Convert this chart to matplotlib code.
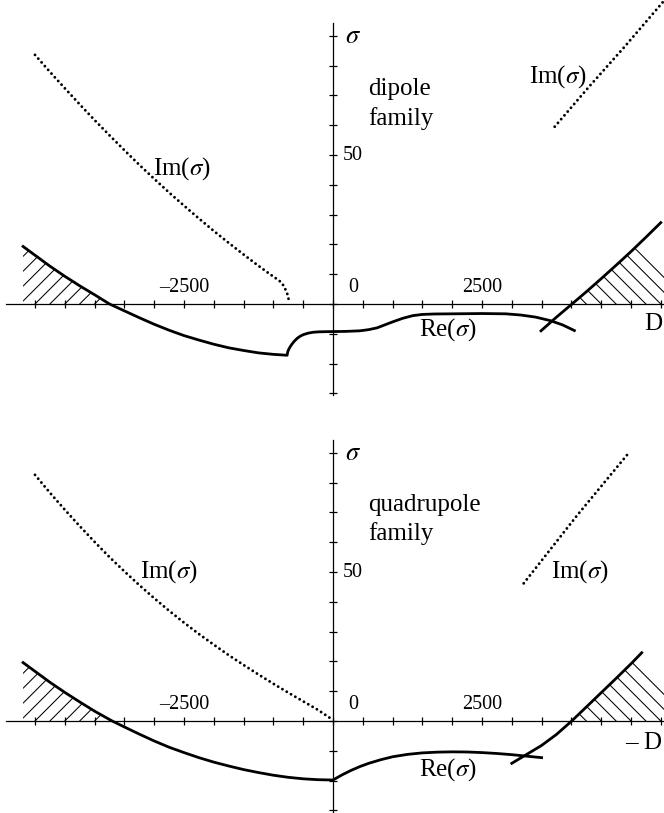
import numpy as np
import matplotlib
matplotlib.use('Agg')
import matplotlib.pyplot as plt
from matplotlib.patches import Polygon

plt.rcParams['font.family'] = ['Liberation Serif', 'DejaVu Serif']
plt.rcParams['mathtext.fontset'] = 'stix'

# dipole family: growth rate branches vs -D
dip_iml_x = [-5000, -4750, -4500, -4250, -4000, -3750, -3500, -3250, -3000, -2750,
             -2500, -2250, -2000, -1750, -1500, -1250, -1050, -900, -850, -810,
             -780, -760, -748, -740]
dip_iml_y = [83.6, 77.9, 72.4, 67.0, 61.7, 56.6, 51.6, 46.7, 42.0, 37.4,
             33.0, 28.7, 24.5, 20.5, 16.6, 12.8, 9.9, 7.8, 6.8, 5.4,
             4.1, 3.0, 2.0, 0.8]
dip_imr_x = [3720, 4300, 4900, 5500, 5650]
dip_imr_y = [59.5, 73.0, 86.5, 100.5, 104.0]
dip_re_x = [-5200, -4750, -4500, -4250, -4000, -3750, -3500, -3250, -3000, -2750,
            -2500, -2250, -2000, -1750, -1500, -1250, -1000, -770,
            -760, -745, -720, -690, -650, -600, -550, -500, -420, -340, -250, -150,
            0, 200, 450, 600, 740, 870, 1000, 1170, 1340, 1500, 1700, 2000, 2500,
            2900, 3150, 3400, 3650, 3850, 4050]
dip_re_y = [19.3, 12.7, 9.3, 6.1, 3.1, 0.0, -2.3, -4.6, -6.8, -8.8,
            -10.6, -12.1, -13.5, -14.7, -15.6, -16.4, -16.9, -17.2,
            -16.1, -15.3, -14.4, -13.5, -12.5, -11.5, -10.8, -10.3, -9.8, -9.5, -9.35, -9.3,
            -9.25, -9.2, -9.0, -8.6, -8.0, -7.0, -6.0, -4.8, -3.9, -3.5, -3.35, -3.3, -3.2,
            -3.3, -3.7, -4.4, -5.6, -7.0, -8.9]
dip_br_x = [3490, 3750, 4010, 4250, 4500, 4750, 5000, 5250, 5500]
dip_br_y = [-9.0, -4.4, 0.0, 4.1, 8.5, 13.0, 17.6, 22.4, 27.3]
dip_hatch_end = [(5650, 30.0), (5650, 0)]

# quadrupole family
quad_iml_x = [-5000, -4750, -4500, -4250, -4000, -3750, -3500, -3250, -3000, -2750,
              -2500, -2250, -2000, -1750, -1500, -1250, -1000, -750, -500, -250, -20]
quad_iml_y = [82.6, 76.6, 70.9, 65.4, 60.1, 55.0, 50.2, 45.6, 41.2, 37.0,
              33.0, 29.2, 25.6, 22.1, 18.8, 15.6, 12.5, 9.5, 6.6, 3.7, 0.6]
quad_imr_x = [3200, 4080, 4980]
quad_imr_y = [46.2, 68.6, 90.4]
quad_re_x = [-5200, -4750, -4500, -4250, -4000, -3705, -3500, -3250, -3000, -2750,
             -2500, -2250, -2000, -1750, -1500, -1250, -1000, -750, -500, -250, 0,
             150, 300, 450, 600, 800, 1000, 1250, 1500, 1750, 2000, 2250, 2500,
             2750, 3000, 3250, 3500]
quad_re_y = [19.6, 13.0, 9.6, 6.4, 3.3, 0.0, -2.0, -4.4, -6.7, -8.8,
             -10.6, -12.3, -13.8, -15.1, -16.3, -17.3, -18.2, -18.9, -19.4, -19.7, -19.8,
             -18.1, -16.6, -15.3, -14.2, -13.0, -12.0, -11.2, -10.7, -10.45, -10.35, -10.4, -10.6,
             -10.9, -11.3, -11.8, -12.3]
quad_br_x = [3000, 3250, 3500, 3750, 4005, 4250, 4500, 4750, 5000, 5180]
quad_br_y = [-14.2, -11.2, -8.2, -4.5, 0.0, 4.7, 9.5, 14.3, 19.2, 22.9]
quad_hatch_end = [(5650, 13.5), (5650, 0)]

XPX = 500 / 29.8   # x units per pixel
YPX = 10 / 29.8    # y units per pixel


def hatch(ax, verts, direction):
    # diagonal hatch lines through every 250 on the axis, clipped to the region
    poly = Polygon(verts, closed=True, facecolor='none', edgecolor='none')
    ax.add_patch(poly)
    for x0 in np.arange(-6000, 6001, 250):
        line, = ax.plot([x0, x0 + direction * 2500], [0, 50], color='k', lw=0.75)
        line.set_clip_path(poly)


def setup(ax, y_top, y_bot, zero_px):
    ax.set_xlim(-333 * XPX, 331 * XPX)
    ax.set_ylim(-(y_bot - zero_px) * YPX, (zero_px - y_top) * YPX)
    for s in ['top', 'right']:
        ax.spines[s].set_visible(False)
    ax.spines['left'].set_position(('data', 0))
    ax.spines['bottom'].set_position(('data', 0))
    ax.spines['left'].set_bounds(-30.5, 94.4)
    ax.spines['bottom'].set_bounds(-5490, 5700)
    for s in ['left', 'bottom']:
        ax.spines[s].set_linewidth(0.9)
    ax.xaxis.set_ticks_position('bottom')
    ax.yaxis.set_ticks_position('left')
    ax.set_xticks(np.arange(-5000, 5501, 500))
    ax.set_yticks(np.arange(-30, 91, 10))
    ax.tick_params(direction='inout', length=6, width=0.9,
                   labelbottom=False, labelleft=False)
    ax.patch.set_visible(False)

    ax.text(-2500, 5.7, '\u20132500', fontsize=14.5, ha='center', va='center')
    ax.text(2500, 5.7, '2500', fontsize=14.5, ha='center', va='center')
    ax.text(250, 5.7, '0', fontsize=14.5, ha='left', va='center')
    ax.text(170, 50, '50', fontsize=14.5, ha='left', va='center')
    ax.text(200, 89.5, r'$\sigma$', fontsize=19, ha='left', va='center')


def dotted(ax, x, y):
    ax.plot(x, y, color='k', lw=2.1, linestyle=(0, (0.01, 1.7)),
            dash_capstyle='round')


def draw(ax, re_x, re_y, br_x, br_y, iml_x, iml_y, imr_x, imr_y, hatch_end):
    # unstable regions
    cross = re_y.index(0.0)
    left = list(zip(re_x[:cross + 1], re_y[:cross + 1])) + [(re_x[0], 0)]
    hatch(ax, left, 1)
    start = br_y.index(0.0)
    right = list(zip(br_x[start:], br_y[start:])) + hatch_end
    hatch(ax, right, -1)

    ax.plot(re_x, re_y, color='k', lw=2.0, solid_joinstyle='round')
    ax.plot(br_x, br_y, color='k', lw=2.0)
    dotted(ax, iml_x, iml_y)
    dotted(ax, imr_x, imr_y)


fig = plt.figure(figsize=(6.64, 8.13), dpi=100)
ax1 = fig.add_axes([0, 1 - 406 / 813, 1, 406 / 813])
ax2 = fig.add_axes([0, 0, 1, 407 / 813])

setup(ax1, 0, 406, 304)
draw(ax1, dip_re_x, dip_re_y, dip_br_x, dip_br_y,
     dip_iml_x, dip_iml_y, dip_imr_x, dip_imr_y, dip_hatch_end)
ax1.text(587, 72, 'dipole', fontsize=18, ha='left', va='center')
ax1.text(587, 62.3, 'family', fontsize=18, ha='left', va='center')
ax1.text(-3020, 45.6, r'Im($\sigma$)', fontsize=18, ha='left', va='center')
ax1.text(3290, 76.3, r'Im($\sigma$)', fontsize=18, ha='left', va='center')
ax1.text(1443, -8.7, r'Re($\sigma$)', fontsize=18, ha='left', va='center')
ax1.text(329 * XPX, -6.7, 'D', fontsize=18, ha='right', va='center')

setup(ax2, 406, 813, 721)
draw(ax2, quad_re_x, quad_re_y, quad_br_x, quad_br_y,
     quad_iml_x, quad_iml_y, quad_imr_x, quad_imr_y, quad_hatch_end)
ax2.text(596, 72.5, 'quadrupole', fontsize=18, ha='left', va='center')
ax2.text(596, 63, 'family', fontsize=18, ha='left', va='center')
ax2.text(-3239, 50.1, r'Im($\sigma$)', fontsize=18, ha='left', va='center')
ax2.text(3651, 50.1, r'Im($\sigma$)', fontsize=18, ha='left', va='center')
ax2.text(1443, -16.4, r'Re($\sigma$)', fontsize=18, ha='left', va='center')
ax2.text(329 * XPX, -7.5, '\u2013 D', fontsize=18, ha='right', va='center')

fig.savefig('out.png', dpi=100, facecolor='white')
